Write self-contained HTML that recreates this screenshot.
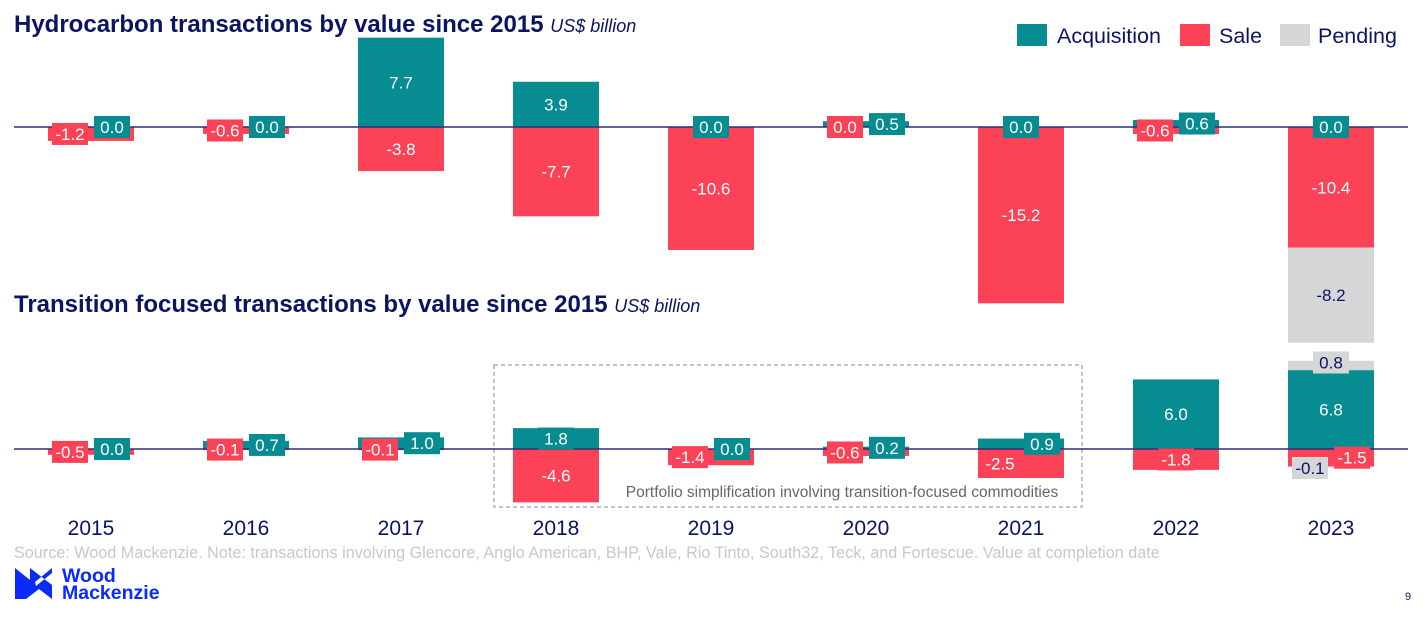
<!DOCTYPE html>
<html><head><meta charset="utf-8"><style>
body{margin:0;background:#fff;width:1426px;height:618px;overflow:hidden;font-family:"Liberation Sans",Arial,sans-serif}
</style></head><body>
<svg id="c" width="1426" height="618" xmlns="http://www.w3.org/2000/svg" font-family="Liberation Sans, Arial, sans-serif">
<text x="14" y="32" font-size="24" font-weight="bold" fill="#0b1462">Hydrocarbon transactions by value since 2015 <tspan font-size="18" font-weight="normal" font-style="italic">US$ billion</tspan></text>
<text x="14" y="312" font-size="24" font-weight="bold" fill="#0b1462">Transition focused transactions by value since 2015 <tspan font-size="18" font-weight="normal" font-style="italic">US$ billion</tspan></text>
<g>
<rect x="1017" y="24" width="30" height="22" fill="#078d91"/>
<text x="1057" y="43" font-size="21.5" fill="#0b1462">Acquisition</text>
<rect x="1180" y="24" width="30" height="22" fill="#fb4257"/>
<text x="1219" y="43" font-size="21.5" fill="#0b1462">Sale</text>
<rect x="1280" y="24" width="30" height="22" fill="#d5d6d8"/>
<text x="1318" y="43" font-size="21.5" fill="#0b1462">Pending</text>
</g>
<rect x="494" y="365" width="588" height="142" fill="none" stroke="#888" stroke-dasharray="4,3"/>
<text x="842" y="497" font-size="15.5" fill="#666" text-anchor="middle">Portfolio simplification involving transition-focused commodities</text>
<g id="bars"></g>
<text x="14" y="558" font-size="16.2" fill="#c8c8c8">Source: Wood Mackenzie. Note: transactions involving Glencore, Anglo American, BHP, Vale, Rio Tinto, South32, Teck, and Fortescue. Value at completion date</text>
<g>
<path d="M15 568 L30 580 L30 568 L52 585 L52 599 L39 589 L26 599 L15 599 Z M36 586 L52 573 L52 568 L35 582 Z" fill="#0a2bff"/>
<text x="62" y="582" font-size="19.5" font-weight="bold" fill="#0a2bff">Wood</text>
<text x="62" y="599" font-size="19.5" font-weight="bold" fill="#0a2bff">Mackenzie</text>
</g>
<text x="1405" y="600" font-size="11" fill="#0b1462">9</text>
</svg>
<script>
const years=["2015","2016","2017","2018","2019","2020","2021","2022","2023"];
const hcAcq=[0.0,0.0,7.7,3.9,0.0,0.5,0.0,0.6,0.0];
const hcSale=[-1.2,-0.6,-3.8,-7.7,-10.6,0.0,-15.2,-0.6,-10.4];
const hcPending=[0,0,0,0,0,0,0,0,-8.2];
const trAcq=[0.0,0.7,1.0,1.8,0.0,0.2,0.9,6.0,6.8];
const trSale=[-0.5,-0.1,-0.1,-4.6,-1.4,-0.6,-2.5,-1.8,-1.5];
const trPendingPos=[0,0,0,0,0,0,0,0,0.8];
const trPendingNeg=[0,0,0,0,0,0,0,0,-0.1];
const NS="http://www.w3.org/2000/svg";
const g=document.getElementById('bars');
const K=11.6, BW=86;
const xC=i=>91+i*155;
const C={a:"#078d91",s:"#fb4257",p:"#d5d6d8"};
const labels=[];
function el(t,a){const e=document.createElementNS(NS,t);for(const k in a)e.setAttribute(k,a[k]);g.appendChild(e);return e;}
function bar(i,base,v0,v1,col,name){
  const y0=base-v1*K,y1=base-v0*K;
  const r=el('rect',{x:xC(i)-BW/2,y:Math.min(y0,y1),width:BW,height:Math.abs(y1-y0),fill:col});
  
  
}
function label(cx,cy,txt,col,box,name,dark){
  labels.push(()=>{
    if(box){const b=el('rect',{x:cx-18,y:cy-11,width:36,height:22,fill:col});
      
      }
    const t=el('text',{x:cx,y:cy+6,'font-size':17,'text-anchor':'middle',fill:dark?"#0b1462":"#fff"});
    t.textContent=txt;
    
    
  });
}
function panel(base,acq,sale,pPos,pNeg,tag){
  for(let i=0;i<years.length;i++){
    const shift=Math.abs(acq[i])<3&&Math.abs(sale[i])<3;
    bar(i,base,0,acq[i],C.a,tag+'-acq-'+years[i]);
    bar(i,base,sale[i],0,C.s,tag+'-sale-'+years[i]);
    if(pPos[i])bar(i,base,acq[i],acq[i]+pPos[i],C.p,tag+'-pending-'+years[i]);
    if(pNeg[i])bar(i,base,sale[i]+pNeg[i],sale[i],C.p,tag+'-pending-neg-'+years[i]);
    const x=xC(i);
    const aSmall=Math.abs(acq[i])*K<22, sSmall=Math.abs(sale[i])*K<22;
    label(x+(shift?21:0),base-acq[i]*K/2,acq[i].toFixed(1),C.a,aSmall,tag+'-acq-label-'+years[i]);
    const sx=x+(pNeg[i]&&Math.abs(sale[i])<3?21:(shift?-21:0));
    label(sx,base-sale[i]*K/2,sale[i].toFixed(1),C.s,sSmall,tag+'-sale-label-'+years[i]);
    if(pPos[i])label(x,base-(acq[i]+pPos[i]/2)*K-3,pPos[i].toFixed(1),C.p,true,tag+'-pending-label-'+years[i],true);
    if(pNeg[i]){
      if(Math.abs(sale[i])<3) label(x-21,base+19,pNeg[i].toFixed(1),C.p,true,tag+'-pending-neg-label-'+years[i],true);
      else label(x,base-(sale[i]+pNeg[i]/2)*K,pNeg[i].toFixed(1),C.p,false,tag+'-pending-neg-label-'+years[i],true);
    }
  }
  const l=el('line',{x1:14,x2:1408,y1:base,y2:base,stroke:"#2e2f7a","stroke-width":1.5});
  
  
}
panel(127,hcAcq,hcSale,[0,0,0,0,0,0,0,0,0],hcPending,'hydrocarbon');
panel(449,trAcq,trSale,trPendingPos,trPendingNeg,'transition');
labels.forEach(f=>f());
years.forEach((y,i)=>{const t=el('text',{x:xC(i),y:535,'font-size':21,'text-anchor':'middle',fill:"#0b1462"});t.textContent=y;

});
</script>
</body></html>
